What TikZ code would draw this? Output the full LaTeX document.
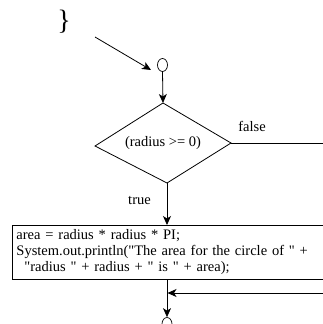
\documentclass[tikz,border=0pt]{standalone}
\usepackage{fontspec}
\setmainfont{Liberation Serif}
\usetikzlibrary{arrows.meta,shapes.geometric}
\newcommand\dq{\textquotedbl}
\begin{document}
\begin{tikzpicture}[x=1pt,y=-1pt,line width=0.8pt,
  flow/.style={-{Stealth[length=9pt,width=8pt,inset=2.5pt]}},
  conn/.style={draw,ellipse,minimum width=10pt,minimum height=13pt,inner sep=0pt,line width=0.7pt},
  lbl/.style={font=\fontsize{14.5}{16}\selectfont,inner sep=0pt},
  stmt/.style={draw,line width=0.9pt,anchor=north west,align=left,inner xsep=0pt,inner ysep=4pt,
    text width=330pt,minimum height=54pt,font=\fontsize{14.5}{16}\selectfont}]
\useasboundingbox (0,0) rectangle (323,324);
\clip (0,0) rectangle (323,324);

% closing brace of the enclosing block
\node[font=\fontsize{28}{28}\selectfont,inner sep=0pt] (brace) at (64,22) {\}};

% entry connector
\coordinate (tail) at (95,37);
\coordinate (entry) at (151,70);
\node[conn] (start) at (162.5,65) {};
\draw[flow] (tail) -- (entry);

% decision diamond
\coordinate (dt) at (163,103);
\coordinate (dr) at (231,143);
\coordinate (db) at (167,183);
\coordinate (dl) at (95,146);
\draw (dt) -- (dr) -- (db) -- (dl) -- cycle;
\node[lbl] (cond) at (163,143) {(radius >= 0)};
\draw[flow] (start.south) -- (dt);

% false branch
\coordinate (fout) at (323,143);
\draw (dr) -- (fout);
\node[lbl] (false) at (252,126) {false};

% true branch
\node[lbl] (true) at (139.5,200) {true};
\node[stmt] (body) at (12,225) {\hspace*{4pt}area = radius * radius * PI;\\
\hspace*{4pt}System.out.println(\dq The area for the circle of \dq{} +\\
\hspace*{4pt}\hspace*{8pt}\dq radius \dq{} + radius + \dq{} is \dq{} + area);};
\coordinate (btop) at (167,225);
\draw[flow] (db) -- (btop);

% merge and exit
\coordinate (bbot) at (167,279);
\coordinate (fin) at (323,293);
\coordinate (merge) at (167.5,293);
\node[conn] (stop) at (167,324) {};
\draw[flow] (bbot) -- (stop.north);
\draw[flow] (fin) -- (merge);
\end{tikzpicture}
\end{document}
